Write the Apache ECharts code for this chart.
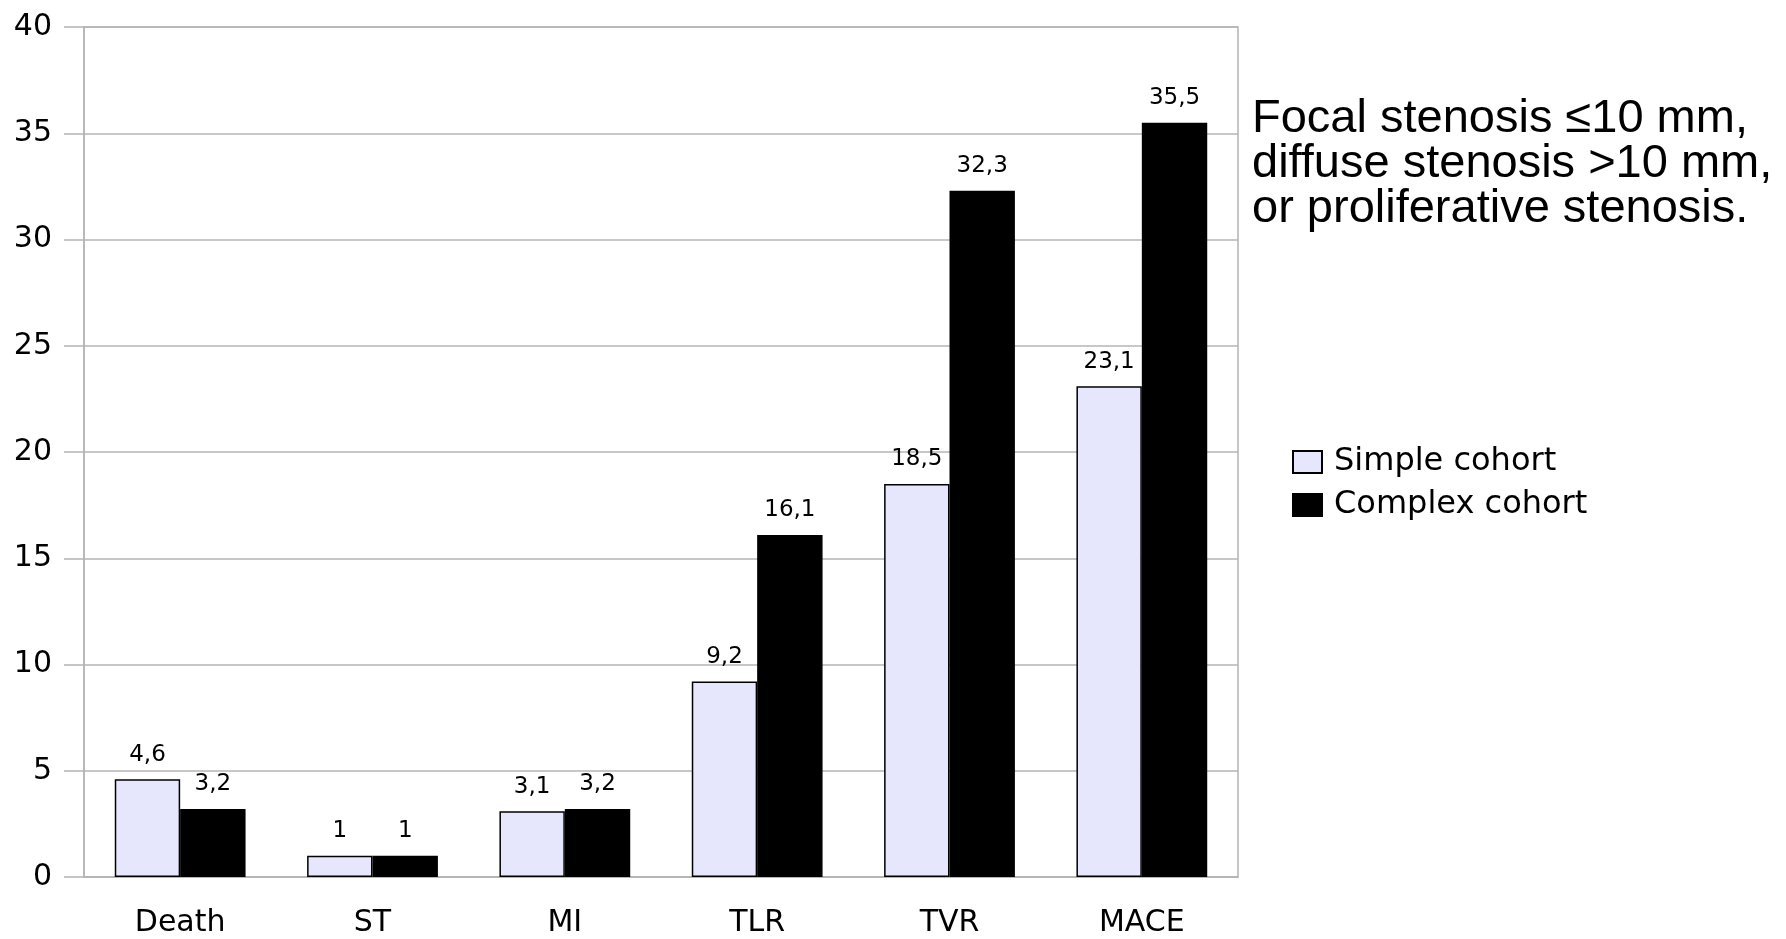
<!DOCTYPE html>
<html>
<head>
<meta charset="utf-8">
<script src="https://cdn.jsdelivr.net/npm/echarts@6/dist/echarts.min.js"></script>
<style>
  html, body { margin: 0; padding: 0; background: #ffffff; }
  #chart { width: 1786px; height: 939px; }
</style>
</head>
<body>
<div id="chart"></div>
<script>
// Outcome categories and cohort rates (%)
const categories = ['Death', 'ST', 'MI', 'TLR', 'TVR', 'MACE'];
const simpleCohort = [4.6, 1, 3.1, 9.2, 18.5, 23.1];
const complexCohort = [3.2, 1, 3.2, 16.1, 32.3, 35.5];
const seriesNames = ['Simple cohort', 'Complex cohort'];
const noteLines = [
  'Focal stenosis \u226410 mm,',
  'diffuse stenosis >10 mm,',
  'or proliferative stenosis.'
];

const axisFont = 'DejaVu Sans';
const gridGray = '#b4b4b4';

// Decimal comma labels
const fmt = p => String(p.value).replace('.', ',');

const chart = echarts.init(document.getElementById('chart'), null, { renderer: 'canvas' });

chart.setOption({
  backgroundColor: '#ffffff',
  animation: false,
  grid: {
    left: 84, right: 1786 - 1238, top: 27, bottom: 939 - 877,
    show: true, borderColor: gridGray, borderWidth: 1.5, backgroundColor: 'transparent'
  },
  legend: {
    orient: 'vertical',
    left: 1292, top: 446,
    padding: 0,
    itemWidth: 29, itemHeight: 22, itemGap: 11,
    icon: 'rect',
    textStyle: { fontFamily: axisFont, fontSize: 32, color: '#000', padding: [0, 0, 0, 7] },
    data: seriesNames
  },
  xAxis: {
    type: 'category',
    data: categories,
    axisLine: { lineStyle: { color: gridGray, width: 1.5 } },
    axisTick: { alignWithLabel: true, length: 16, lineStyle: { color: gridGray, width: 1.5 } },
    axisLabel: { fontFamily: axisFont, fontSize: 30, color: '#000', margin: 31 }
  },
  yAxis: {
    type: 'value',
    min: 0, max: 40, interval: 5,
    axisLine: { show: true, lineStyle: { color: gridGray, width: 1.5 } },
    axisTick: { show: true, inside: false, length: 20, lineStyle: { color: gridGray, width: 1.5 } },
    splitLine: { lineStyle: { color: gridGray, width: 1.5 } },
    axisLabel: { fontFamily: axisFont, fontSize: 30, color: '#000', margin: 32 }
  },
  series: [
    {
      name: seriesNames[0],
      type: 'bar',
      data: simpleCohort,
      barGap: '0%',
      barCategoryGap: '32%',
      itemStyle: { color: '#e6e6fc', borderColor: '#000', borderWidth: 1.5 },
      label: {
        show: true, position: 'top', distance: 13,
        formatter: fmt, fontFamily: axisFont, fontSize: 23, color: '#000'
      }
    },
    {
      name: seriesNames[1],
      type: 'bar',
      data: complexCohort,
      itemStyle: { color: '#000000', borderColor: '#000', borderWidth: 1.5 },
      label: {
        show: true, position: 'top', distance: 13,
        formatter: fmt, fontFamily: axisFont, fontSize: 23, color: '#000'
      }
    }
  ],
  graphic: [
    {
      type: 'text',
      x: 1252, y: 97,
      style: {
        text: noteLines.join('\n'),
        font: '47px "Liberation Sans", Arial, sans-serif',
        lineHeight: 45,
        textAlign: 'left',
        textVerticalAlign: 'top',
        fill: '#000'
      }
    }
  ]
});
</script>
</body>
</html>
